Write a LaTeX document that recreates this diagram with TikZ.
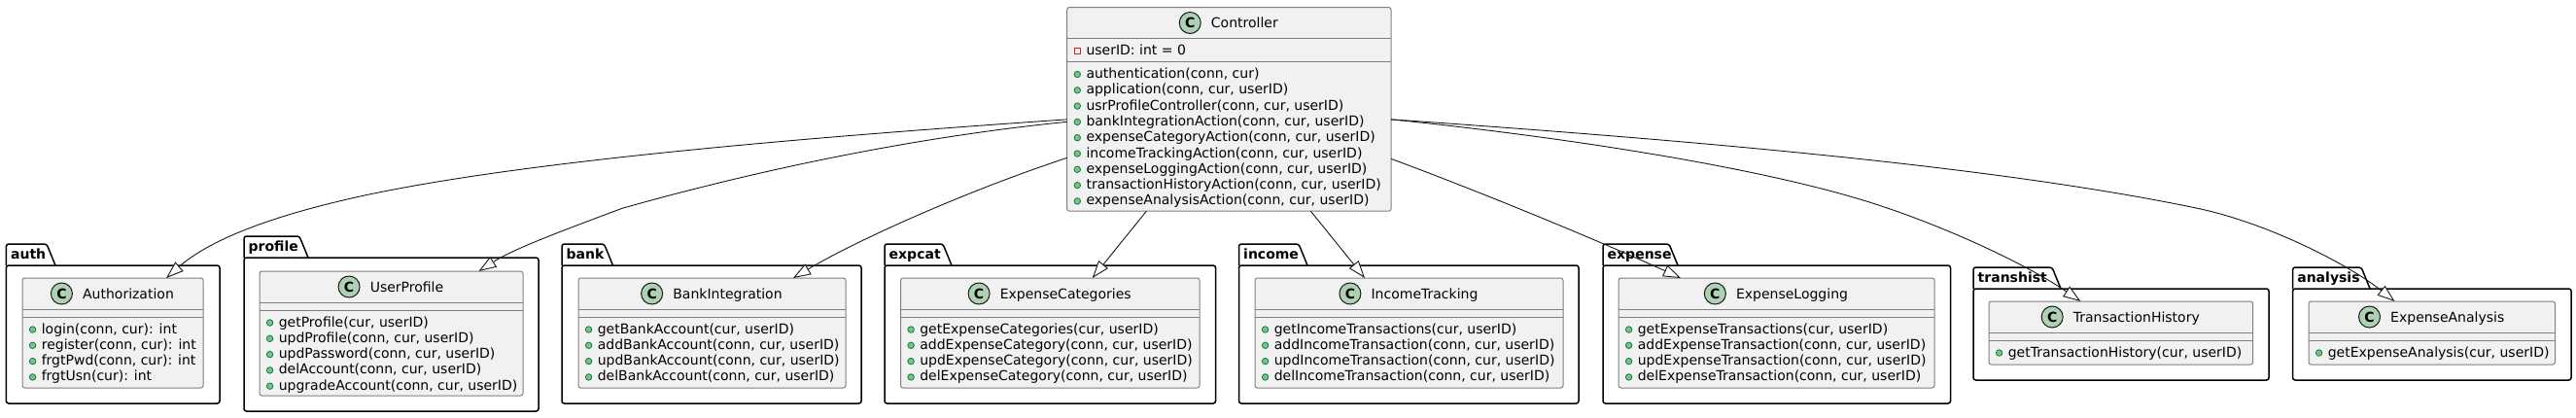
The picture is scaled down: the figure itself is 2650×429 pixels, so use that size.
\documentclass[tikz,border=0pt]{standalone}
\usepackage{fontspec}
\setmainfont{DejaVu Sans}
\usepackage{tikz}
\usetikzlibrary{arrows.meta}
\definecolor{clsfill}{HTML}{F1F1F1}
\definecolor{clsline}{HTML}{808080}
\definecolor{iconfill}{HTML}{ADD1B2}
\definecolor{inkline}{HTML}{181818}
\definecolor{pubfill}{HTML}{84BE84}
\definecolor{publine}{HTML}{038048}
\definecolor{privline}{HTML}{C82930}
\tikzset{
  pkgbox/.style={draw=black,fill=white,line width=1.5pt,rounded corners=2.5pt,
    anchor=north west,inner sep=0pt,outer sep=0pt},
  pkgtab/.style={draw=black,fill=white,line width=1.5pt,rounded corners=2.5pt},
  pkgname/.style={font=\fontsize{14}{16}\selectfont\bfseries,inner sep=0pt,
    anchor=base west},
  clsbox/.style={draw=clsline,fill=clsfill,line width=1pt,rounded corners=2.5pt,
    anchor=north west,inner sep=0pt,outer sep=0pt},
  clssep/.style={draw=clsline,line width=1pt},
  clsname/.style={font=\fontsize{14}{16}\selectfont,inner sep=0pt,anchor=base},
  clsicon/.style={circle,draw=inkline,fill=iconfill,line width=1pt,minimum size=22pt,
    inner sep=0pt,anchor=east,font=\fontsize{14}{16}\selectfont\bfseries},
  mthd/.style={font=\fontsize{14}{16}\selectfont,inner sep=0pt,anchor=base west},
  pubdot/.style={circle,draw=publine,fill=pubfill,line width=0.8pt,minimum size=6.5pt,
    inner sep=0pt},
  privsq/.style={rectangle,draw=privline,fill=clsfill,line width=1pt,minimum size=6pt,
    inner sep=0pt},
  extends/.style={draw=inkline,line width=0.9pt,
    -{Triangle[open,length=18pt,width=12.5pt,fill=white]}},
}
% name, left, body top, width, height, tab width, label
\newcommand{\umlpkg}[7]{
  \draw[pkgtab] (#2,#3) -- ++(0,-22) -- ++(#6-9,0) -- ++(9,22);
  \node[pkgbox,minimum width=#4pt,minimum height=#5pt] (#1) at (#2,#3) {};
  \node[pkgname] (#1t) at ([xshift=4.5pt,yshift=7pt]#1.north west) {#7};
}
% [second rule], name, left, top, width, height, title, rows
\newcommand{\umlclass}[8][40]{
  \node[clsbox,minimum width=#5pt,minimum height=#6pt] (#2) at (#3,#4) {};
  \draw[clssep] ([yshift=-32pt]#2.north west) -- ([yshift=-32pt]#2.north east);
  \draw[clssep] ([yshift=-#1pt]#2.north west) -- ([yshift=-#1pt]#2.north east);
  \node[clsname] (#2t) at ([xshift=16pt,yshift=-21pt]#2.north) {#7};
  \node[clsicon] (#2i) at ([xshift=-10pt,yshift=5pt]#2t.base west) {C};
  \foreach \mth [count=\k] in {#8} {
    \node[mthd] (#2m\k) at ([xshift=19.6pt,yshift={-(#1+17+16.3*(\k-1))*1pt}]#2.north west) {\mth};
    \node[pubdot] (#2d\k) at ([xshift=10.6pt,yshift={-(#1+13+16.3*(\k-1))*1pt}]#2.north west) {};
  }
}
\begin{document}
\begin{tikzpicture}[x=1pt,y=-1pt]
  \useasboundingbox (0,0) rectangle (2650,429);
  \umlpkg{authp}{6.4}{273}{219.6}{142}{50.6}{auth}
  \umlpkg{profp}{251}{265}{303}{158}{66}{profile}
  \umlpkg{bankp}{578}{273}{308}{142}{52.5}{bank}
  \umlpkg{catp}{910}{273}{340.6}{142}{69}{expcat}
  \umlpkg{incp}{1274.5}{273}{349.5}{142}{70.5}{income}
  \umlpkg{expp}{1649}{273}{357.5}{142}{77}{expense}
  \umlpkg{histp}{2030}{297}{304}{94}{90}{transhist}
  \umlpkg{anap}{2358.6}{297}{286.4}{94}{79.5}{analysis}
  \umlclass[56]{ctrl}{1097.7}{7.5}{333.3}{209.7}{Controller}{{authentication(conn, cur)},
    {application(conn, cur, userID)},{usrProfileController(conn, cur, userID)},
    {bankIntegrationAction(conn, cur, userID)},{expenseCategoryAction(conn, cur, userID)},
    {incomeTrackingAction(conn, cur, userID)},{expenseLoggingAction(conn, cur, userID)},
    {transactionHistoryAction(conn, cur, userID)},{expenseAnalysisAction(conn, cur, userID)}}
  \node[mthd] (ctrla) at ([xshift=19.6pt,yshift=-48.5pt]ctrl.north west) {userID: int = 0};
  \node[privsq] (ctrlq) at ([xshift=10.6pt,yshift=-44.8pt]ctrl.north west) {};
  \umlclass{authz}{23}{286}{186}{113}{Authorization}{{login(conn, cur): int},
    {register(conn, cur): int},{frgtPwd(conn, cur): int},{frgtUsn(cur): int}}
  \umlclass{uprof}{267}{279}{271}{128}{UserProfile}{{getProfile(cur, userID)},
    {updProfile(conn, cur, userID)},{updPassword(conn, cur, userID)},
    {delAccount(conn, cur, userID)},{upgradeAccount(conn, cur, userID)}}
  \umlclass{bank}{595}{286}{275}{113}{BankIntegration}{{getBankAccount(cur, userID)},
    {addBankAccount(conn, cur, userID)},{updBankAccount(conn, cur, userID)},
    {delBankAccount(conn, cur, userID)}}
  \umlclass{ecat}{926.5}{286}{307.5}{113}{ExpenseCategories}{{getExpenseCategories(cur, userID)},
    {addExpenseCategory(conn, cur, userID)},{updExpenseCategory(conn, cur, userID)},
    {delExpenseCategory(conn, cur, userID)}}
  \umlclass{inc}{1291}{286}{317}{113}{IncomeTracking}{{getIncomeTransactions(cur, userID)},
    {addIncomeTransaction(conn, cur, userID)},{updIncomeTransaction(conn, cur, userID)},
    {delIncomeTransaction(conn, cur, userID)}}
  \umlclass{elog}{1665}{286}{325}{113}{ExpenseLogging}{{getExpenseTransactions(cur, userID)},
    {addExpenseTransaction(conn, cur, userID)},{updExpenseTransaction(conn, cur, userID)},
    {delExpenseTransaction(conn, cur, userID)}}
  \umlclass{hist}{2046}{310}{271.6}{65}{TransactionHistory}{{getTransactionHistory(cur, userID)}}
  \umlclass{ana}{2375}{310}{253.5}{65}{ExpenseAnalysis}{{getExpenseAnalysis(cur, userID)}}
  % generalisation edges
  \draw[extends] ([yshift=-10.5pt]ctrl.west) .. controls (850,140) and (520,165.7) .. (350,206.7)
    .. controls (265,227) and (212,250) .. ([xshift=55pt]authz.north);
  \draw[extends] ([yshift=-13pt]ctrl.west) .. controls (950,140) and (790,172) .. (640,214.3)
    .. controls (585,235) and (530,255) .. ([xshift=90pt]uprof.north);
  \draw[extends] ([yshift=-50pt]ctrl.west) .. controls (990,198) and (880,248)
    .. ([xshift=83.5pt]bank.north);
  \draw[extends] ([xshift=-85pt]ctrl.south) -- ([xshift=43.5pt]ecat.north);
  \draw[extends] ([xshift=84pt]ctrl.south) -- ([xshift=-45.5pt]inc.north);
  \draw[extends] ([yshift=-51pt]ctrl.east) .. controls (1530,200) and (1650,250)
    .. ([xshift=-98.5pt]elog.north);
  \draw[extends] ([yshift=-10.5pt]ctrl.east) .. controls (1600,140) and (1800,170) .. (1920,207)
    .. controls (2000,232) and (2085,272) .. ([xshift=-41.4pt]hist.north);
  \draw[extends] ([yshift=-10.5pt]ctrl.east) .. controls (1750,145) and (2060,172) .. (2264,215)
    .. controls (2340,232) and (2420,275) .. ([xshift=-38.25pt]ana.north);
\end{tikzpicture}
\end{document}
